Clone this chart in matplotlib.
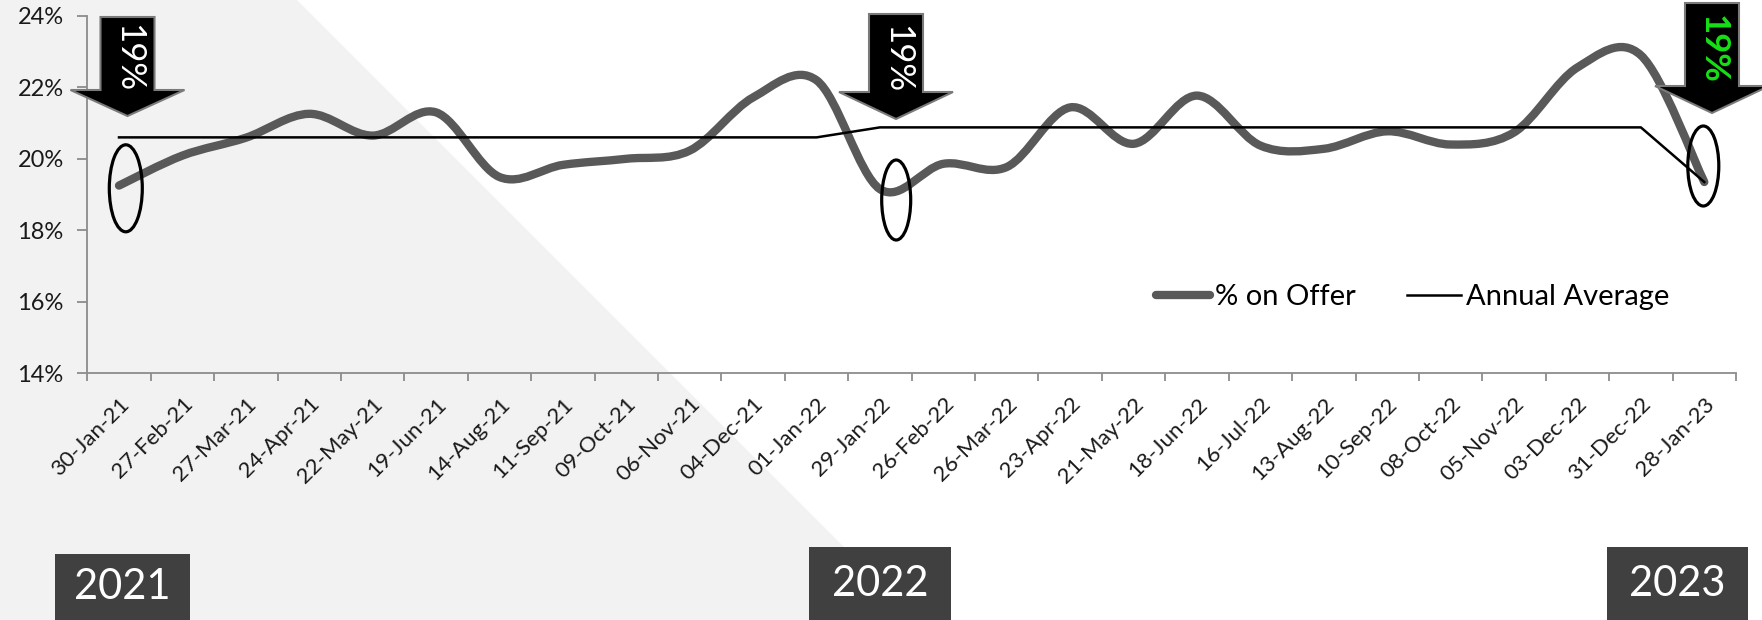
import matplotlib
matplotlib.use("Agg")
import matplotlib.pyplot as plt
from matplotlib.path import Path
from matplotlib.patches import PathPatch, Polygon, Ellipse, Rectangle
from matplotlib.lines import Line2D
from matplotlib.ticker import FixedLocator

# ---------------- data ----------------
categories = ['30-Jan-21', '27-Feb-21', '27-Mar-21', '24-Apr-21', '22-May-21', '19-Jun-21',
              '14-Aug-21', '11-Sep-21', '09-Oct-21', '06-Nov-21', '04-Dec-21', '01-Jan-22',
              '29-Jan-22', '26-Feb-22', '26-Mar-22', '23-Apr-22', '21-May-22', '18-Jun-22',
              '16-Jul-22', '13-Aug-22', '10-Sep-22', '08-Oct-22', '05-Nov-22', '03-Dec-22',
              '31-Dec-22', '28-Jan-23']
pct_on_offer = [19.25, 20.09, 20.59, 21.26, 20.65, 21.30, 19.49, 19.83, 20.00, 20.23, 21.72, 22.20,
                19.15, 19.86, 19.77, 21.44, 20.42, 21.77, 20.37, 20.28, 20.77, 20.40, 20.74, 22.56,
                22.90, 19.35]
annual_average = [20.60, 20.60, 20.60, 20.60, 20.60, 20.60, 20.60, 20.60, 20.60, 20.60, 20.60, 20.60,
                  20.88, 20.88, 20.88, 20.88, 20.88, 20.88, 20.88, 20.88, 20.88, 20.88, 20.88, 20.88,
                  20.88, 19.35]
yticks = [14, 16, 18, 20, 22, 24]
highlight_idx = [0, 12, 25]
highlight_text = ['19%', '19%', '19%']
years = ['2021', '2022', '2023']
series_names = ['% on Offer', 'Annual Average']

# ---------------- style ----------------
FONT = ['Lato', 'DejaVu Sans']
plt.rcParams['font.family'] = FONT
W, H = 1762, 620
fig = plt.figure(figsize=(W / 100, H / 100), dpi=100)
fig.patch.set_facecolor('white')


def f(x, y):
    """top-down pixel -> figure fraction"""
    return (x / W, 1 - y / H)


# light grey diagonal background
fig.patches.append(Polygon([f(0, 0), f(297, 0), f(917, 620), f(0, 620)], closed=True,
                           transform=fig.transFigure, facecolor='#f2f2f2', edgecolor='none',
                           zorder=-5))

ax = fig.add_axes([87.3 / W, 1 - 373 / H, (1736 - 87.3) / W, (373 - 16) / H])
ax.set_facecolor('none')
n = len(categories)
ax.set_xlim(-0.5, n - 0.5)
ax.set_ylim(min(yticks), max(yticks))

# smoothed (Excel-like) line through the data via cubic Bezier segments
xs = list(range(n))
pts = list(zip(xs, pct_on_offer))
verts = [pts[0]]
codes = [Path.MOVETO]
for i in range(n - 1):
    p0 = pts[max(i - 1, 0)]
    p1 = pts[i]
    p2 = pts[i + 1]
    p3 = pts[min(i + 2, n - 1)]
    c1 = (p1[0] + (p2[0] - p0[0]) / 6, p1[1] + (p2[1] - p0[1]) / 6)
    c2 = (p2[0] - (p3[0] - p1[0]) / 6, p2[1] - (p3[1] - p1[1]) / 6)
    verts += [c1, c2, p2]
    codes += [Path.CURVE4] * 3
SERIES_COLOR = '#595959'
ax.add_patch(PathPatch(Path(verts, codes), fill=False, edgecolor=SERIES_COLOR, lw=6,
                       capstyle='round', joinstyle='round', zorder=3))
ax.plot(xs, annual_average, color='black', lw=1.8, zorder=4)

# axes styling
for s in ['top', 'right']:
    ax.spines[s].set_visible(False)
for s in ['left', 'bottom']:
    ax.spines[s].set_color('#8c8c8c')
    ax.spines[s].set_linewidth(1.3)
ax.set_yticks(yticks)
ax.set_yticklabels([f'{v}%' for v in yticks], fontsize=17, color='#1a1a1a')
ax.tick_params(axis='y', length=7, width=1.3, color='#8c8c8c', pad=10)
ax.set_xticks(xs)
ax.set_xticklabels(categories, rotation=45, ha='right', va='top', rotation_mode='anchor',
                   fontsize=16, color='#1a1a1a')
ax.tick_params(axis='x', which='major', length=0, pad=15)
ax.xaxis.set_minor_locator(FixedLocator([i - 0.5 for i in range(n + 1)]))
ax.tick_params(axis='x', which='minor', length=6, width=1.3, color='#8c8c8c')

# legend
handles = [Line2D([], [], color=SERIES_COLOR, lw=6, solid_capstyle='round'),
           Line2D([], [], color='black', lw=1.8)]
leg = fig.legend(handles, series_names, loc='center left', bbox_to_anchor=f(1156, 297),
                 bbox_transform=fig.transFigure, ncol=2, frameon=False, fontsize=21,
                 handlelength=1.86, handletextpad=0.16, columnspacing=1.75, borderpad=0,
                 borderaxespad=0)

# highlight arrows + ellipses
arrow_specs = [  # cx, top, shaft bottom, tip, text centre y
    (127.5, 17, 90, 116, 58),
    (896, 14, 92, 119, 59),
    (1712, 3, 86, 113, 49),
]
ellipse_specs = [(125.8, 188.3, 33, 87), (896.2, 200, 29, 80), (1703.3, 166, 31, 80)]
for k, (cx, top, sb, tip, ty) in enumerate(arrow_specs):
    shw, hhw = 27, 57
    poly = [f(cx - shw, top), f(cx + shw, top), f(cx + shw, sb), f(cx + hhw, sb),
            f(cx, tip), f(cx - hhw, sb), f(cx - shw, sb)]
    fig.patches.append(Polygon(poly, closed=True, transform=fig.transFigure,
                               facecolor='black', edgecolor='#7a7a7a', lw=1.5, zorder=6))
    last = (k == len(arrow_specs) - 1)
    fig.text(*f(cx + 1, ty), highlight_text[k], rotation=270, ha='center', va='center',
             fontsize=25, color='#16e016' if last else 'white',
             fontweight='bold' if last else 'normal', zorder=7)
for (ex, ey, ew, eh) in ellipse_specs:
    fig.patches.append(Ellipse(f(ex, ey), ew / W, eh / H, transform=fig.transFigure,
                               fill=False, edgecolor='black', lw=2.3, zorder=6))

# year boxes
year_boxes = [(55, 554, 189.5), (809, 547, 950.7), (1607, 547, 1748)]
for yr, (x0, y0, x1) in zip(years, year_boxes):
    fig.patches.append(Rectangle(f(x0, 620), (x1 - x0) / W, (620 - y0) / H,
                                 transform=fig.transFigure, facecolor='#404040',
                                 edgecolor='none', zorder=6))
    fig.text(*f((x0 + x1) / 2, (y0 + 620) / 2), yr, ha='center', va='center', fontsize=30,
             color='white', zorder=7)

fig.savefig('out.png', dpi=100)
